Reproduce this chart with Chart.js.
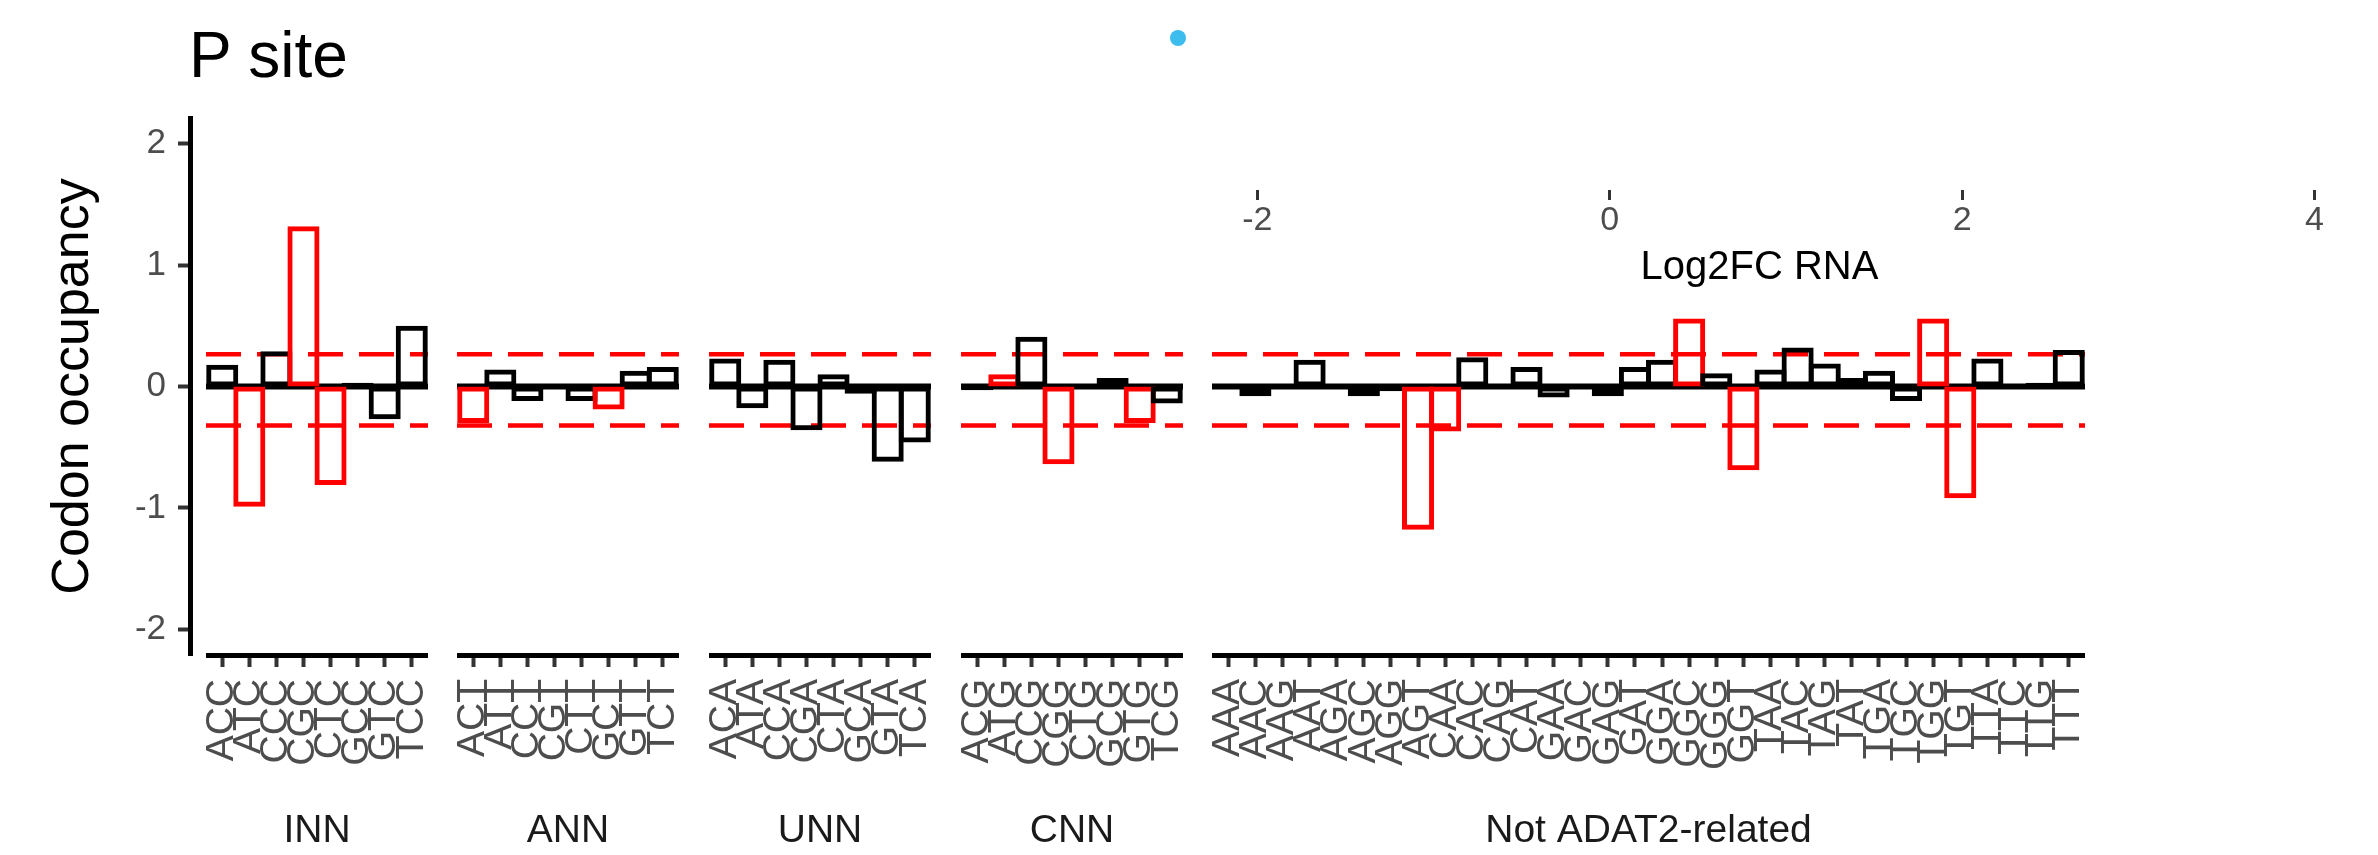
<!DOCTYPE html>
<html>
<head>
<meta charset="utf-8">
<script src="https://cdn.jsdelivr.net/npm/chart.js@4.4.1/dist/chart.umd.min.js"></script>
<style>
  body { margin: 0; background: #fff; overflow: hidden; }
  #wrap { position: relative; width: 2378px; height: 855px; }
  #wrap canvas { position: absolute; top: 0; }
  #title { position: absolute; left: 189px; top: 23px; font: 64px 'Liberation Sans', Arial, sans-serif; line-height: 64px; color: #000; white-space: nowrap; }
</style>
</head>
<body>
<div id="wrap"><div id="title">P site</div></div>
<script>
// facet names and codons
const facetNames = ["INN", "ANN", "UNN", "CNN", "Not ADAT2-related"];
const innCodons = ["ACC", "ATC", "CCC", "CGC", "CTC", "GCC", "GTC", "TCC"];
const annCodons = ["ACT", "ATT", "CCT", "CGT", "CTT", "GCT", "GTT", "TCT"];
const unnCodons = ["ACA", "ATA", "CCA", "CGA", "CTA", "GCA", "GTA", "TCA"];
const cnnCodons = ["ACG", "ATG", "CCG", "CGG", "CTG", "GCG", "GTG", "TCG"];
const otherCodons = ["AAA", "AAC", "AAG", "AAT", "AGA", "AGC", "AGG", "AGT",
  "CAA", "CAC", "CAG", "CAT", "GAA", "GAC", "GAG", "GAT",
  "GGA", "GGC", "GGG", "GGT", "TAA", "TAC", "TAG", "TAT",
  "TGA", "TGC", "TGG", "TGT", "TTA", "TTC", "TTG", "TTT"];

// codon occupancy values
const innValues = [0.18, -0.99, 0.29, 1.32, -0.81, 0.03, -0.27, 0.50];
const annValues = [-0.30, 0.14, -0.12, 0.01, -0.12, -0.19, 0.13, 0.16];
const unnValues = [0.23, -0.18, 0.22, -0.36, 0.10, -0.06, -0.62, -0.46];
const cnnValues = [-0.03, 0.10, 0.41, -0.64, 0.005, 0.07, -0.30, -0.14];
const otherValues = [-0.01, -0.08, 0.01, 0.22, 0.005, -0.08, -0.04, -1.18,
  -0.37, 0.24, -0.01, 0.16, -0.09, 0.005, -0.08, 0.16,
  0.22, 0.56, 0.11, -0.69, 0.14, 0.32, 0.19, 0.07,
  0.13, -0.12, 0.56, -0.92, 0.23, 0.005, 0.03, 0.30];

// significant codons (drawn red)
const innSig = [0, 1, 0, 1, 1, 0, 0, 0];
const annSig = [1, 0, 0, 0, 0, 1, 0, 0];
const unnSig = [0, 0, 0, 0, 0, 0, 0, 0];
const cnnSig = [0, 1, 0, 1, 0, 0, 1, 0];
const otherSig = [0, 0, 0, 0, 0, 0, 0, 1, 1, 0, 0, 0, 0, 0, 0, 0,
  0, 1, 0, 1, 0, 0, 0, 0, 0, 0, 1, 1, 0, 0, 0, 0];

// cutoffs and axis ticks
const upperCut = 0.265;
const lowerCut = -0.32;
const yTicks = [-2, -1, 0, 1, 2];

// the stray Log2FC RNA point
const rnaX = [-2.45];
const rnaY = [0.8];
const rnaTicks = [-2, 0, 2, 4];

Chart.defaults.font.family = "'Liberation Sans', Arial, Helvetica, sans-serif";

const H = 855;
const UNIT = 27.1;   // px per codon
const GAP = 29.5;    // px between panels
const EDGE = 5;      // bar outline width
const wrap = document.getElementById("wrap");

function addCanvas(left, width, height) {
  const c = document.createElement("canvas");
  c.width = Math.round(width);
  c.height = height;
  c.style.left = Math.round(left) + "px";
  wrap.appendChild(c);
  return c;
}

// dashed cutoffs + zero line, under the bars
const refLines = {
  id: "refLines",
  beforeDatasetsDraw(chart) {
    const { ctx, chartArea, scales } = chart;
    ctx.save();
    ctx.strokeStyle = "#FF0000";
    ctx.lineWidth = 4.5;
    ctx.setLineDash([35, 16]);
    [upperCut, lowerCut].forEach(v => {
      const py = scales.y.getPixelForValue(v);
      ctx.beginPath();
      ctx.moveTo(chartArea.left, py);
      ctx.lineTo(chartArea.right, py);
      ctx.stroke();
    });
    ctx.setLineDash([]);
    ctx.strokeStyle = "#000";
    ctx.lineWidth = 6;
    const y0 = scales.y.getPixelForValue(0);
    ctx.beginPath();
    ctx.moveTo(chartArea.left, y0);
    ctx.lineTo(chartArea.right, y0);
    ctx.stroke();
    ctx.restore();
  }
};

// y axis on its own
const yCanvas = addCanvas(0, 200, H);
new Chart(yCanvas, {
  type: "scatter",
  data: { datasets: [] },
  options: {
    responsive: false,
    animation: false,
    layout: { autoPadding: false, padding: { top: 118, bottom: 200, left: 0, right: 0 } },
    plugins: { legend: { display: false }, tooltip: { enabled: false } },
    scales: {
      x: { display: false },
      y: {
        min: -2.21,
        max: 2.21,
        afterBuildTicks: s => { s.ticks = yTicks.map(v => ({ value: v })); },
        afterFit: s => { s.width = 190; s.paddingTop = 0; s.paddingBottom = 0; },
        ticks: { font: { size: 35 }, color: "#4D4D4D", padding: 12 },
        grid: { drawOnChartArea: false, tickLength: 12, tickColor: "#333333", tickWidth: 4 },
        border: { display: true, color: "#000", width: 5 },
        title: {
          display: true, text: "Codon occupancy", color: "#000",
          font: { size: 52, lineHeight: 1 }, padding: { top: 48, bottom: 0 }
        }
      }
    }
  }
});

// one chart per facet
function makeFacet(left, name, codons, values, sig) {
  const width = (codons.length + 0.2) * UNIT;
  const canvas = addCanvas(left, width, H);
  new Chart(canvas, {
    type: "bar",
    data: {
      datasets: [{
        data: values.map((v, i) => ({ x: i + 1, y: v })),
        borderColor: sig.map(s => (s ? "#FF0000" : "#000000")),
        backgroundColor: "rgba(0,0,0,0)",
        borderWidth: EDGE,
        borderSkipped: false,
        inflateAmount: 0,
        barPercentage: 1 + EDGE / UNIT,
        categoryPercentage: 1
      }]
    },
    options: {
      responsive: false,
      animation: false,
      layout: { autoPadding: false, padding: { top: 118, bottom: 0, left: 0, right: 0 } },
      plugins: { legend: { display: false }, tooltip: { enabled: false } },
      scales: {
        x: {
          type: "linear",
          offset: false,
          min: 0.4,
          max: codons.length + 0.6,
          afterBuildTicks: s => { s.ticks = codons.map((c, i) => ({ value: i + 1 })); },
          afterFit: s => { s.height = 200; s.paddingLeft = 0; s.paddingRight = 0; },
          ticks: {
            callback: (v, i) => codons[i],
            autoSkip: false, minRotation: 90, maxRotation: 90,
            font: { size: 39 }, color: "#4D4D4D", padding: 12
          },
          grid: { offset: false, drawOnChartArea: false, tickLength: 12, tickColor: "#333333", tickWidth: 4 },
          border: { display: true, color: "#000", width: 5 },
          title: {
            display: true, text: name, color: "#1A1A1A",
            font: { size: 39, lineHeight: 1 }, padding: { top: 0, bottom: 4 }
          }
        },
        y: { display: false, min: -2.21, max: 2.21 }
      }
    },
    plugins: [refLines]
  });
  return left + width + GAP;
}

let x0 = 205.5;
x0 = makeFacet(x0, facetNames[0], innCodons, innValues, innSig);
x0 = makeFacet(x0, facetNames[1], annCodons, annValues, annSig);
x0 = makeFacet(x0, facetNames[2], unnCodons, unnValues, unnSig);
x0 = makeFacet(x0, facetNames[3], cnnCodons, cnnValues, cnnSig);
x0 = makeFacet(x0, facetNames[4], otherCodons, otherValues, otherSig);

// Log2FC RNA overlay at the top right
const rnaCanvas = addCanvas(1141, 1237, 300);
new Chart(rnaCanvas, {
  type: "scatter",
  data: {
    datasets: [{
      data: rnaX.map((x, i) => ({ x: x, y: rnaY[i] })),
      pointRadius: 8,
      backgroundColor: "#3DBCEE",
      borderWidth: 0
    }]
  },
  options: {
    responsive: false,
    animation: false,
    layout: { autoPadding: false, padding: 0 },
    plugins: { legend: { display: false }, tooltip: { enabled: false } },
    scales: {
      x: {
        type: "linear",
        min: -2.66,
        max: 4.36,
        afterBuildTicks: s => { s.ticks = rnaTicks.map(v => ({ value: v })); },
        afterFit: s => { s.height = 110; s.paddingLeft = 0; s.paddingRight = 0; },
        ticks: { font: { size: 34 }, color: "#4D4D4D", padding: 0, maxRotation: 0 },
        grid: { drawOnChartArea: false, tickLength: 10, tickColor: "#333333", tickWidth: 3 },
        border: { display: false },
        title: {
          display: true, text: "Log2FC RNA", color: "#000",
          font: { size: 40, lineHeight: 1 }, padding: { top: 0, bottom: 12 }
        }
      },
      y: { display: false, min: 0, max: 1 }
    }
  }
});
</script>
</body>
</html>
